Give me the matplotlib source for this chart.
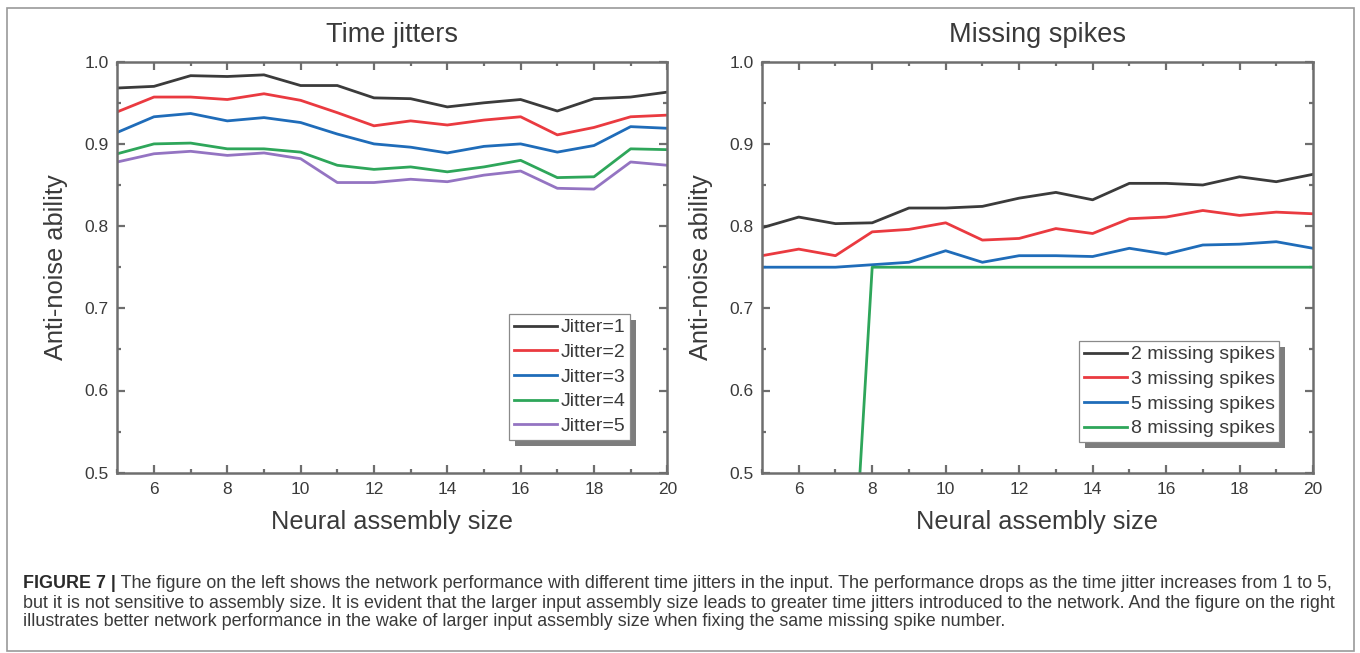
import matplotlib
matplotlib.use("Agg")
import matplotlib.pyplot as plt
import matplotlib.ticker as mticker
from matplotlib.patches import Rectangle

plt.rcParams["font.family"] = ["Liberation Sans", "DejaVu Sans"]

# ---- data ----
sizes = list(range(5, 21))

jitter_labels = ["Jitter=1", "Jitter=2", "Jitter=3", "Jitter=4", "Jitter=5"]
jitter_1 = [0.968, 0.970, 0.983, 0.982, 0.984, 0.971, 0.971, 0.956,
            0.955, 0.945, 0.950, 0.954, 0.940, 0.955, 0.957, 0.963]
jitter_2 = [0.939, 0.957, 0.957, 0.954, 0.961, 0.953, 0.938, 0.922,
            0.928, 0.923, 0.929, 0.933, 0.911, 0.920, 0.933, 0.935]
jitter_3 = [0.914, 0.933, 0.937, 0.928, 0.932, 0.926, 0.912, 0.900,
            0.896, 0.889, 0.897, 0.900, 0.890, 0.898, 0.921, 0.919]
jitter_4 = [0.888, 0.900, 0.901, 0.894, 0.894, 0.890, 0.874, 0.869,
            0.872, 0.866, 0.872, 0.880, 0.859, 0.860, 0.894, 0.893]
jitter_5 = [0.878, 0.888, 0.891, 0.886, 0.889, 0.882, 0.853, 0.853,
            0.857, 0.854, 0.862, 0.867, 0.846, 0.845, 0.878, 0.874]

missing_labels = ["2 missing spikes", "3 missing spikes",
                  "5 missing spikes", "8 missing spikes"]
missing_2 = [0.798, 0.811, 0.803, 0.804, 0.822, 0.822, 0.824, 0.834,
             0.841, 0.832, 0.852, 0.852, 0.850, 0.860, 0.854, 0.863]
missing_3 = [0.764, 0.772, 0.764, 0.793, 0.796, 0.804, 0.783, 0.785,
             0.797, 0.791, 0.809, 0.811, 0.819, 0.813, 0.817, 0.815]
missing_5 = [0.750, 0.750, 0.750, 0.753, 0.756, 0.770, 0.756, 0.764,
             0.764, 0.763, 0.773, 0.766, 0.777, 0.778, 0.781, 0.773]
missing_8 = [0.0, 0.0, 0.0, 0.750, 0.750, 0.750, 0.750, 0.750,
             0.750, 0.750, 0.750, 0.750, 0.750, 0.750, 0.750, 0.750]

colors5 = ["#3b3b3b", "#ea3a40", "#1f6cb9", "#2ea65a", "#9474c2"]
colors4 = ["#3b3b3b", "#ea3a40", "#1f6cb9", "#2ea65a"]

caption_bold = "FIGURE 7 |"
caption_lines = [
    " The figure on the left shows the network performance with different time jitters in the input. "
    "The performance drops as the time jitter increases from 1 to 5,",
    "but it is not sensitive to assembly size. It is evident that the larger input assembly size leads "
    "to greater time jitters introduced to the network. And the figure on the right",
    "illustrates better network performance in the wake of larger input assembly size when fixing the "
    "same missing spike number.",
]

SPINE = "#6e6e6e"
TEXT = "#3a3a3a"
W, H = 1360, 653

fig = plt.figure(figsize=(W / 100, H / 100), dpi=100)
ax1 = fig.add_axes([117.3 / W, 1 - 472.7 / H, 550 / W, 411 / H])
ax2 = fig.add_axes([762 / W, 1 - 472.7 / H, 551 / W, 411 / H])


def style_axes(ax, title):
    ax.set_xlim(5, 20)
    ax.set_ylim(0.5, 1.0)
    ax.set_xticks(range(6, 21, 2))
    ax.xaxis.set_minor_locator(mticker.FixedLocator(range(5, 21, 2)))
    ax.yaxis.set_major_locator(mticker.MultipleLocator(0.1))
    ax.yaxis.set_minor_locator(mticker.MultipleLocator(0.05))
    ax.yaxis.set_major_formatter(mticker.FormatStrFormatter("%.1f"))
    ax.tick_params(which="both", direction="in", top=True, right=True,
                   color=SPINE, width=1.6, labelsize=12.5, labelcolor=TEXT)
    ax.tick_params(which="major", length=5.5, pad=6)
    ax.tick_params(which="minor", length=3)
    ax.tick_params(axis="x", pad=7)
    for sp in ax.spines.values():
        sp.set_color(SPINE)
        sp.set_linewidth(1.8)
    ax.set_title(title, fontsize=19.5, color=TEXT, pad=14)
    ax.set_xlabel("Neural assembly size", fontsize=18.3, color=TEXT, labelpad=9)
    ax.set_ylabel("Anti-noise ability", fontsize=18.3, color=TEXT, labelpad=12)


for ys, lab, c in zip([jitter_1, jitter_2, jitter_3, jitter_4, jitter_5],
                      jitter_labels, colors5):
    ax1.plot(sizes, ys, color=c, lw=2.0, label=lab)
style_axes(ax1, "Time jitters")

for ys, lab, c in zip([missing_2, missing_3, missing_5, missing_8],
                      missing_labels, colors4):
    ax2.plot(sizes, ys, color=c, lw=2.0, label=lab)
style_axes(ax2, "Missing spikes")

legend_kw = dict(fontsize=14, frameon=True, fancybox=False, borderpad=0.25,
                 labelspacing=0.36, handlelength=2.2, handletextpad=0.2,
                 borderaxespad=0, labelcolor=TEXT)
leg1 = ax1.legend(loc="upper left", bbox_to_anchor=((509 - 117.3) / 550, 1 - (314 - 61.7) / 411),
                  **legend_kw)
leg2 = ax2.legend(loc="upper left", bbox_to_anchor=((1079 - 762) / 551, 1 - (341 - 61.7) / 411),
                  **legend_kw)
for leg in (leg1, leg2):
    fr = leg.get_frame()
    fr.set_edgecolor("#8a8a8a")
    fr.set_linewidth(0.9)
    fr.set_facecolor("white")
    fr.set_alpha(1)

# caption
fig.canvas.draw()
renderer = fig.canvas.get_renderer()
ys_cap = [583, 603, 622]
cap_size = 12.9
tb = fig.text(23 / W, 1 - ys_cap[0] / H, caption_bold, fontsize=cap_size, weight="bold",
              color="#2a2a2a", va="center", ha="left")
bw = tb.get_window_extent(renderer).width
for i, line in enumerate(caption_lines):
    x = (23 + (bw if i == 0 else 0)) / W
    fig.text(x, 1 - ys_cap[i] / H, line, fontsize=cap_size, color="#3a3a3a",
             va="center", ha="left")

# grey shadows behind legends, drawn in axes coords from the rendered legend box
fig.canvas.draw()
for ax, leg in ((ax1, leg1), (ax2, leg2)):
    bb = leg.get_window_extent(renderer)
    inv = ax.transAxes.inverted()
    (x0, y0), (x1, y1) = inv.transform([(bb.x0 + 6, bb.y0 - 6), (bb.x1 + 6, bb.y1 - 6)])
    ax.add_patch(Rectangle((x0, y0), x1 - x0, y1 - y0, transform=ax.transAxes,
                           facecolor="#7d7d7d", edgecolor="none", zorder=4.9, clip_on=False))

# outer frame around the whole figure
fig.patches.append(Rectangle((7 / W, 1 - 651 / H), (1354 - 7) / W, (651 - 8) / H,
                             transform=fig.transFigure, fill=False,
                             edgecolor="#9a9a9a", linewidth=1.2))

fig.savefig("out.png", dpi=100)
